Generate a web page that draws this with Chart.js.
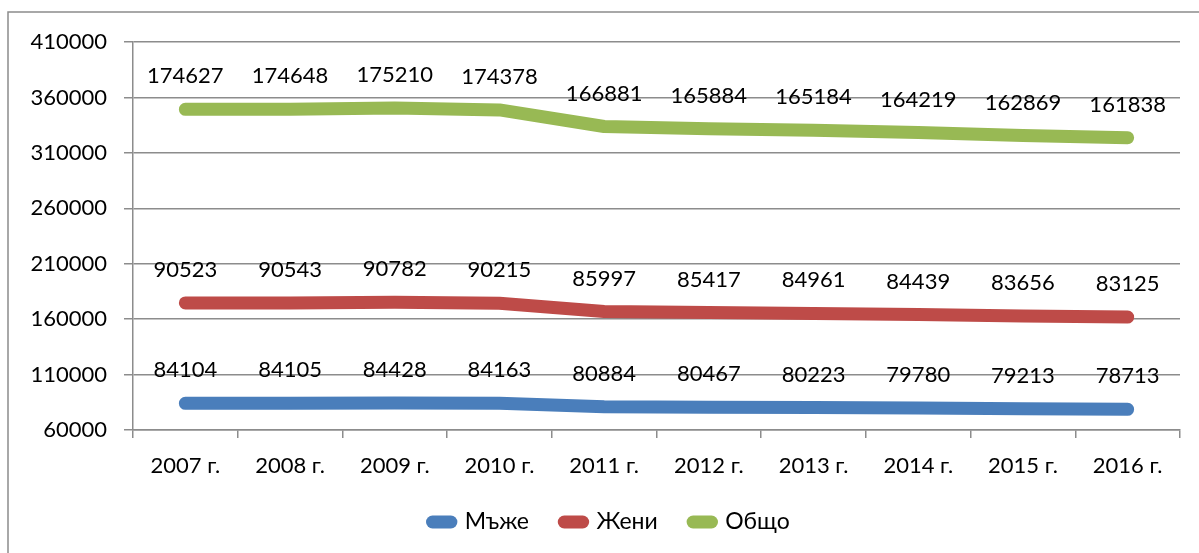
<!DOCTYPE html>
<html>
<head>
<meta charset="utf-8">
<script src="https://cdn.jsdelivr.net/npm/chart.js@4/dist/chart.umd.min.js"></script>
<style>
    html, body { margin: 0; padding: 0; background: #fff; }
    #wrap { width: 1199px; height: 553px; position: relative; }
</style>
</head>
<body>
<div id="wrap"><canvas id="chart"></canvas></div>
<script>
const years = ['2007 г.', '2008 г.', '2009 г.', '2010 г.', '2011 г.', '2012 г.', '2013 г.', '2014 г.', '2015 г.', '2016 г.'];
const men = [84104, 84105, 84428, 84163, 80884, 80467, 80223, 79780, 79213, 78713];
const women = [90523, 90543, 90782, 90215, 85997, 85417, 84961, 84439, 83656, 83125];
const total = [174627, 174648, 175210, 174378, 166881, 165884, 165184, 164219, 162869, 161838];
const seriesNames = ['Мъже', 'Жени', 'Общо'];

const FONT = 'Lato, "Open Sans", sans-serif';
const GRID = '#8c8c8c';

// outer frame around the whole chart, legend nudged right like the original
const framePlugin = {
    id: 'frame',
    beforeDraw(chart) {
        if (chart.legend) chart.legend.left = 40;
        const { ctx } = chart;
        ctx.save();
        ctx.strokeStyle = '#8c8c8c';
        ctx.lineWidth = 1.5;
        ctx.strokeRect(8, 12, 1400, 700);
        ctx.restore();
    }
};

// raw values written above each point
const valueLabels = {
    id: 'valueLabels',
    afterDatasetsDraw(chart) {
        const { ctx } = chart;
        ctx.save();
        ctx.font = '22px ' + FONT;
        ctx.fillStyle = '#000';
        ctx.textAlign = 'center';
        ctx.textBaseline = 'middle';
        chart.data.datasets.forEach((ds, i) => {
            chart.getDatasetMeta(i).data.forEach((pt, j) => {
                ctx.fillText(String(ds.data[j]), pt.x, pt.y - 33);
            });
        });
        ctx.restore();
    }
};

function lineSet(label, data, color) {
    return {
        label,
        data,
        borderColor: color,
        backgroundColor: color,
        borderWidth: 13,
        borderCapStyle: 'round',
        borderJoinStyle: 'round',
        pointRadius: 0,
        pointHoverRadius: 0,
        fill: false,
        tension: 0,
    };
}

new Chart(document.getElementById('chart'), {
    type: 'line',
    data: {
        labels: years,
        datasets: [
            lineSet(seriesNames[0], men, '#4a7ebb'),
            lineSet(seriesNames[1], women, '#be4b48'),
            lineSet(seriesNames[2], total, '#98b954'),
        ],
    },
    options: {
        responsive: true,
        maintainAspectRatio: false,
        animation: false,
        layout: { padding: { top: 42, right: 19, bottom: 9.5, left: 0 } },
        plugins: {
            tooltip: { enabled: false },
            legend: {
                position: 'bottom',
                labels: {
                    usePointStyle: true,
                    pointStyle: 'line',
                    boxWidth: 49,
                    boxHeight: 13,
                    padding: 33,
                    color: '#000',
                    font: { family: FONT, size: 23 },
                    generateLabels(chart) {
                        const items = Chart.defaults.plugins.legend.labels.generateLabels(chart);
                        items.forEach((it, i) => {
                            it.lineCap = 'round';
                            it.lineWidth = 13;
                            it.strokeStyle = chart.data.datasets[i].borderColor;
                        });
                        return items;
                    },
                },
            },
        },
        scales: {
            x: {
                offset: true,
                grid: { offset: true, drawOnChartArea: false, tickLength: 8, color: GRID, lineWidth: 1.5 },
                border: { color: GRID, width: 1.5 },
                ticks: {
                    autoSkip: false,
                    maxRotation: 0,
                    padding: 15,
                    color: '#000',
                    font: { family: FONT, size: 22 },
                },
                afterFit(scale) { scale.height = 47.5; },
            },
            y: {
                stacked: true,
                min: 60000,
                max: 410000,
                grid: { tickLength: 9, color: GRID, lineWidth: 1.5 },
                border: { color: GRID, width: 1.5 },
                ticks: {
                    stepSize: 50000,
                    padding: 17,
                    color: '#000',
                    font: { family: FONT, size: 22 },
                    callback: (v) => String(v),
                },
                afterFit(scale) { scale.width = 133; },
            },
        },
    },
    plugins: [framePlugin, valueLabels],
});
</script>
</body>
</html>
